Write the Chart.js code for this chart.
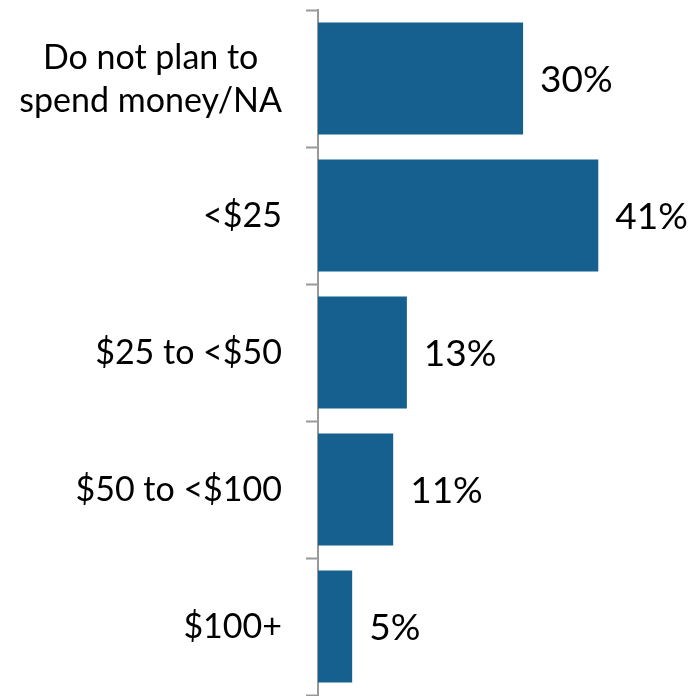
<!DOCTYPE html>
<html>
<head>
<meta charset="utf-8">
<script src="https://cdn.jsdelivr.net/npm/chart.js@4/dist/chart.umd.min.js"></script>
<style>
  html, body { margin: 0; padding: 0; background: #ffffff; }
  #wrap { width: 698px; height: 696px; }
</style>
</head>
<body>
<div id="wrap"><canvas id="chart"></canvas></div>
<script>
// categories and values (percent)
const categories = [
  ['Do not plan to', 'spend money/NA'],
  '<$25',
  '$25 to <$50',
  '$50 to <$100',
  '$100+'
];
const shares = [30, 41, 13, 11, 5];

const barColor = '#15608F';
const axisGrey = '#999999';

// draw the "NN%" text right of each bar
const valueLabels = {
  id: 'valueLabels',
  afterDatasetsDraw(chart) {
    const ctx = chart.ctx;
    const meta = chart.getDatasetMeta(0);
    ctx.save();
    ctx.font = '37px Lato';
    ctx.fillStyle = '#000000';
    ctx.textAlign = 'left';
    ctx.textBaseline = 'middle';
    meta.data.forEach((bar, i) => {
      ctx.fillText(shares[i] + '%', bar.x + 17, bar.y + 2);
    });
    ctx.restore();
  }
};

// category labels: block right-aligned to the axis, lines centred inside the block
const categoryLabels = {
  id: 'categoryLabels',
  afterDraw(chart) {
    const ctx = chart.ctx;
    const y = chart.scales.y;
    const right = y.right - 12 - 24;
    const lineGap = 43;
    ctx.save();
    ctx.font = '34px Lato';
    ctx.fillStyle = '#000000';
    ctx.textAlign = 'center';
    ctx.textBaseline = 'middle';
    categories.forEach((lab, i) => {
      const lines = Array.isArray(lab) ? lab : [lab];
      const w = Math.max(...lines.map(t => ctx.measureText(t).width));
      const cx = right - w / 2;
      const yc = y.getPixelForTick(i);
      lines.forEach((t, k) => {
        ctx.fillText(t, cx, yc + 1 + (k - (lines.length - 1) / 2) * lineGap);
      });
    });
    ctx.restore();
  }
};

new Chart(document.getElementById('chart'), {
  type: 'bar',
  plugins: [valueLabels, categoryLabels],
  data: {
    labels: categories,
    datasets: [{
      data: shares,
      backgroundColor: barColor,
      borderWidth: 0,
      categoryPercentage: 1,
      barPercentage: 0.818
    }]
  },
  options: {
    indexAxis: 'y',
    responsive: true,
    maintainAspectRatio: false,
    animation: false,
    layout: { padding: { top: 10, right: 4, bottom: 1, left: 0 } },
    plugins: {
      legend: { display: false },
      tooltip: { enabled: false }
    },
    scales: {
      x: {
        display: false,
        min: 0,
        max: 55
      },
      y: {
        afterFit: (scale) => {
          scale.width = 318;
          scale.paddingTop = 0;
          scale.paddingBottom = 0;
        },
        border: { display: true, color: axisGrey, width: 2 },
        grid: {
          offset: true,
          drawOnChartArea: false,
          drawTicks: true,
          tickLength: 12,
          tickColor: axisGrey,
          tickWidth: 2
        },
        ticks: { display: false }
      }
    }
  }
});
</script>
</body>
</html>
